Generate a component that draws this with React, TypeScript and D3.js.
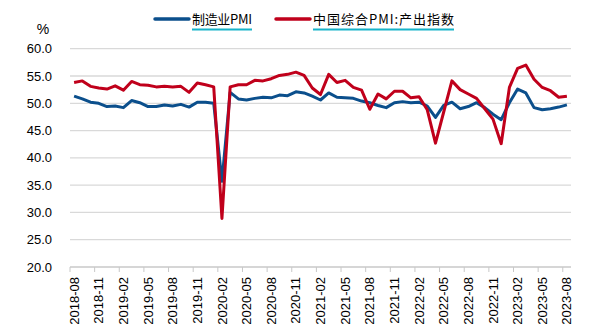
import React from "react";
import * as d3 from "d3";

const months: string[] = [];
for (let y = 2018; y <= 2023; y++) {
  for (let m = 1; m <= 12; m++) {
    const key = `${y}-${String(m).padStart(2, "0")}`;
    if (key >= "2018-08" && key <= "2023-08") months.push(key);
  }
}

const seriesNames = ["制造业PMI", "中国综合PMI:产出指数"];

const manufacturingPMI = [
  51.3, 50.8, 50.2, 50.0, 49.4,
  49.5, 49.2, 50.5, 50.1, 49.4, 49.4, 49.7, 49.5, 49.8, 49.3, 50.2, 50.2,
  50.0, 35.7, 52.0, 50.8, 50.6, 50.9, 51.1, 51.0, 51.5, 51.4, 52.1, 51.9,
  51.3, 50.6, 51.9, 51.1, 51.0, 50.9, 50.4, 50.1, 49.6, 49.2, 50.1, 50.3,
  50.1, 50.2, 49.5, 47.4, 49.6, 50.2, 49.0, 49.4, 50.1, 49.2, 48.0, 47.0,
  50.1, 52.6, 51.9, 49.2, 48.8, 49.0, 49.3, 49.7,
];

const compositeOutput = [
  53.8, 54.1, 53.1, 52.8, 52.6,
  53.2, 52.4, 54.0, 53.4, 53.3, 53.0, 53.1, 53.0, 53.1, 52.0, 53.7, 53.4,
  53.0, 28.9, 53.0, 53.4, 53.4, 54.2, 54.1, 54.5, 55.1, 55.3, 55.7, 55.1,
  52.8, 51.6, 55.3, 53.8, 54.2, 52.9, 52.4, 48.9, 51.7, 50.8, 52.2, 52.2,
  51.0, 51.2, 48.8, 42.7, 48.4, 54.1, 52.5, 51.7, 50.9, 49.0, 47.1, 42.6,
  52.9, 56.4, 57.0, 54.4, 52.9, 52.3, 51.1, 51.3,
];

const yTicks = [20, 25, 30, 35, 40, 45, 50, 55, 60];
const colors = ["#0b4f8c", "#c0001b"];

const W = 600, H = 332;
const plotLeft = 70, plotRight = 571, plotTop = 48.7, plotBottom = 267;

export default function App() {
  const x = d3.scaleBand<string>().domain(months).range([plotLeft, plotRight]).paddingInner(0).paddingOuter(0);
  const y = d3.scaleLinear().domain([20, 60]).range([plotBottom, plotTop]);
  const bw = x.bandwidth();
  const line = d3
    .line<number>()
    .x((_, i) => (x(months[i]) as number) + bw / 2)
    .y((d) => y(d))
    .curve(d3.curveLinear);

  const tickMonths = months.filter((_, i) => i % 3 === 0);
  const font = "'Liberation Sans', Arial, sans-serif";
  const cjk = "'Noto Sans CJK SC', sans-serif";

  const legend = [
    { name: seriesNames[0], color: colors[0], lx: 155, tx: 192, tw: 60 },
    { name: seriesNames[1], color: colors[1], lx: 276, tx: 313, tw: 141 },
  ];

  return (
    <svg width={W} height={H} style={{ position: "absolute", left: 0, top: 0, background: "#fff" }}>
      {/* grid */}
      {yTicks.map((t) => (
        <line key={t} x1={plotLeft} x2={plotRight} y1={y(t)} y2={y(t)} stroke={t === 20 ? "#c8c8c8" : "#d9d9d9"} strokeWidth={1.3} />
      ))}
      {/* y labels */}
      {yTicks.map((t) => (
        <text key={"l" + t} x={52} y={y(t)} dy="0.35em" textAnchor="end" fontFamily={font} fontSize={13} fill="#000">
          {t.toFixed(1)}
        </text>
      ))}
      <text x={43} y={29} dy="0.35em" textAnchor="middle" fontFamily={font} fontSize={14} fill="#000">%</text>
      {/* x ticks */}
      {tickMonths.map((m) => (
        <line key={"t" + m} x1={x(m)} x2={x(m)} y1={plotBottom} y2={plotBottom + 5} stroke="#c8c8c8" strokeWidth={1} />
      ))}
      {tickMonths.map((m) => {
        const cx = (x(m) as number) + bw / 2;
        return (
          <text key={"x" + m} transform={`translate(${cx},${plotBottom + 10}) rotate(-90)`} dy="0.35em" textAnchor="end" fontFamily={font} fontSize={13} fill="#000">
            {m}
          </text>
        );
      })}
      {/* lines */}
      <path d={line(manufacturingPMI) || ""} fill="none" stroke={colors[0]} strokeWidth={3} strokeLinejoin="round" />
      <path d={line(compositeOutput) || ""} fill="none" stroke={colors[1]} strokeWidth={3} strokeLinejoin="round" />
      {/* legend */}
      {legend.map((l) => (
        <g key={l.name}>
          <line x1={l.lx} x2={l.lx + 34} y1={19} y2={19} stroke={l.color} strokeWidth={3.5} strokeLinecap="round" />
          <text x={l.tx} y={19} dy="0.35em" fontFamily={cjk} fontSize={13} fill="#000" textLength={l.tw} lengthAdjust="spacing">
            {l.name}
          </text>
          <line x1={l.tx} x2={l.tx + l.tw} y1={29.5} y2={29.5} stroke="#17b3c9" strokeWidth={2} />
        </g>
      ))}
    </svg>
  );
}
